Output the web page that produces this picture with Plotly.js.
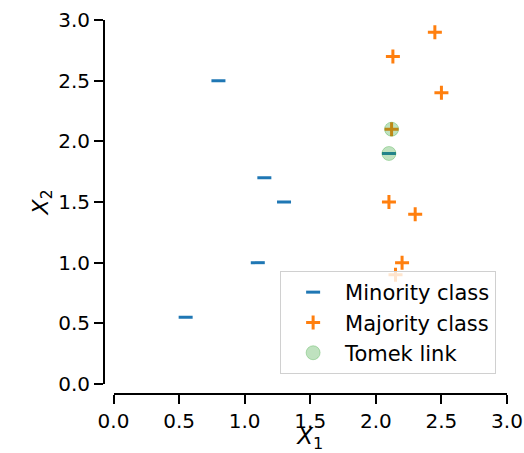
<!DOCTYPE html>
<html>
<head>
<meta charset="utf-8">
<script src="https://cdn.plot.ly/plotly-3.0.1.min.js"></script>
<style>html,body{margin:0;padding:0;background:#fff;}#chart{width:524px;height:453px;}</style>
</head>
<body>
<div id="chart"></div>
<script>
var minorityX = [0.8, 1.15, 1.3, 1.1, 0.55, 2.1];
var minorityY = [2.5, 1.7, 1.5, 1.0, 0.55, 1.9];
var majorityX = [2.45, 2.13, 2.5, 2.12, 2.1, 2.3, 2.2, 2.15];
var majorityY = [2.9, 2.7, 2.4, 2.1, 1.5, 1.4, 1.0, 0.9];
var tomekX = [2.1, 2.12];
var tomekY = [1.9, 2.1];
var tickVals = [0, 0.5, 1, 1.5, 2, 2.5, 3];
var tickText = ['0.0', '0.5', '1.0', '1.5', '2.0', '2.5', '3.0'];

var font = 'DejaVu Sans, sans-serif';

var traces = [
  {x: minorityX, y: minorityY, mode: 'markers', type: 'scatter', name: 'Minority class',
   marker: {symbol: 'line-ew', size: 10, color: '#1f77b4', line: {width: 3, color: '#1f77b4'}}},
  {x: majorityX, y: majorityY, mode: 'markers', type: 'scatter', name: 'Majority class',
   marker: {symbol: 'cross-thin', size: 10, color: '#ff7f0e', line: {width: 3, color: '#ff7f0e'}}},
  {x: tomekX, y: tomekY, mode: 'markers', type: 'scatter', name: 'Tomek link',
   marker: {symbol: 'circle', size: 14, color: 'rgba(44,160,44,0.3)', line: {width: 1, color: 'rgba(44,160,44,0.3)'}}}
];

var layout = {
  width: 524, height: 453,
  margin: {l: 104, r: 17, t: 20, b: 59},
  paper_bgcolor: '#fff', plot_bgcolor: '#fff',
  font: {family: font, size: 20, color: '#000'},
  showlegend: true,
  xaxis: {
    domain: [0.0236, 1], anchor: 'free', position: 0,
    range: [0, 3], tickvals: tickVals, ticktext: tickText,
    showgrid: false, zeroline: false, showline: true, linecolor: '#000', linewidth: 2,
    ticks: 'outside', ticklen: 9, tickwidth: 2, tickcolor: '#000',
    tickfont: {family: font, size: 20, color: '#000'},
    title: {text: '<i>X</i><sub>1</sub>', font: {family: font, size: 23, color: '#000'}}
  },
  yaxis: {
    domain: [0.0267, 1], anchor: 'free', position: 0,
    range: [0, 3], tickvals: tickVals, ticktext: tickText,
    showgrid: false, zeroline: false, showline: true, linecolor: '#000', linewidth: 2,
    ticks: 'outside', ticklen: 9, tickwidth: 2, tickcolor: '#000',
    tickfont: {family: font, size: 20, color: '#000'},
    title: {text: '<i>X</i><sub>2</sub>', font: {family: font, size: 22, color: '#000'}}
  },
  legend: {
    x: 0.973, y: 0.0535, xanchor: 'right', yanchor: 'bottom',
    bgcolor: 'rgba(255,255,255,0.8)', bordercolor: '#d0d0d0', borderwidth: 1,
    font: {family: font, size: 21, color: '#000'},
    itemwidth: 54, tracegroupgap: 0
  }
};

Plotly.newPlot('chart', traces, layout, {displayModeBar: false, staticPlot: true});
</script>
</body>
</html>
